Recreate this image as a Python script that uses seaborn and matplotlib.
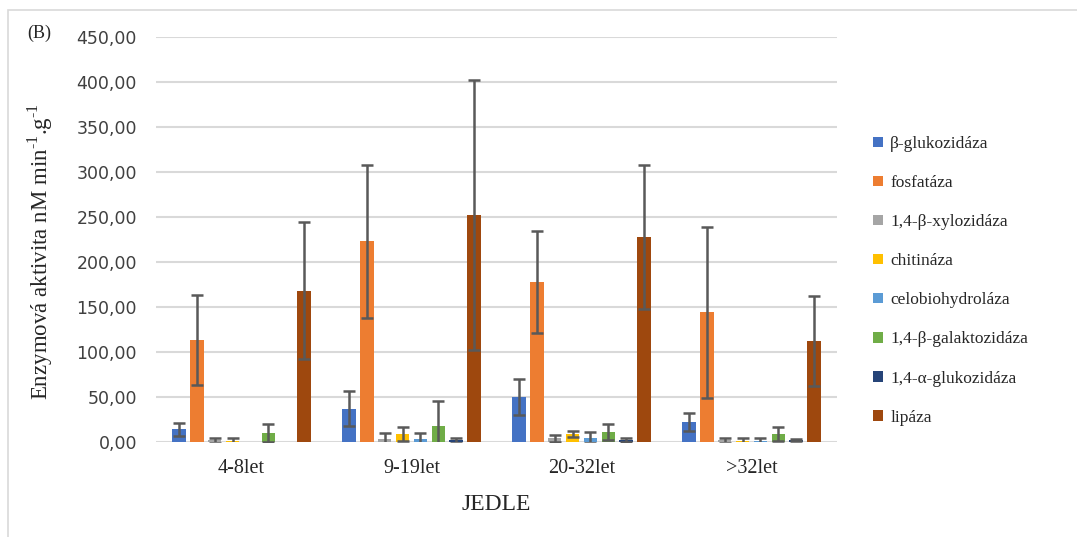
import numpy as np
import pandas as pd
import matplotlib
matplotlib.use("Agg")
import matplotlib.pyplot as plt
import seaborn as sns
from matplotlib.patches import Rectangle
from matplotlib.ticker import FuncFormatter

# --- data: enzyme activity per stand age class (fir, JEDLE) ---
categories = ["4-8let", "9-19let", "20-32let", ">32let"]
enzymes = ["β-glukozidáza", "fosfatáza", "1,4-β-xylozidáza", "chitináza",
           "celobiohydroláza", "1,4-β-galaktozidáza", "1,4-α-glukozidáza", "lipáza"]

mean_bglu = [14, 37, 50, 22]
mean_fosf = [113, 223, 178, 144]
mean_xyl = [2, 3, 4, 2]
mean_chit = [1, 9, 9, 1]
mean_celo = [np.nan, 3.5, 5, 1]
mean_gal = [10, 18, 11, 9]
mean_aglu = [np.nan, 2, 2, 2]
mean_lip = [168, 252, 228, 112]

sd_bglu = [7, 19.5, 20, 10]
sd_fosf = [50, 85, 57, 95]
sd_xyl = [3, 6.5, 4, 3]
sd_chit = [3, 8, 3, 3]
sd_celo = [np.nan, 7, 6, 3]
sd_gal = [10, 28, 9, 8]
sd_aglu = [np.nan, 3, 2, 1]
sd_lip = [76, 150, 80, 50]

means = [mean_bglu, mean_fosf, mean_xyl, mean_chit, mean_celo, mean_gal, mean_aglu, mean_lip]
sds = [sd_bglu, sd_fosf, sd_xyl, sd_chit, sd_celo, sd_gal, sd_aglu, sd_lip]

colors = ["#4472C4", "#ED7D31", "#A5A5A5", "#FFC000",
          "#5B9BD5", "#70AD47", "#264478", "#9E480E"]

rows = []
for enz, m, s in zip(enzymes, means, sds):
    for cat, mv, sv in zip(categories, m, s):
        rows.append({"vek": cat, "enzym": enz, "aktivita": mv, "sd": sv})
df = pd.DataFrame(rows)

sns.set_theme(style="white")
plt.rcParams["font.family"] = ["DejaVu Sans"]
SERIF = ["Liberation Serif", "DejaVu Serif"]

fig = plt.figure(figsize=(10.77, 5.37), dpi=100)
ax = fig.add_axes([0.1453, 0.1769, 0.6314, 0.7542])

BAR_W = 0.843
sns.barplot(data=df, x="vek", y="aktivita", hue="enzym",
            order=categories, hue_order=enzymes, palette=colors,
            width=BAR_W, gap=0.235, errorbar=None, saturation=1,
            linewidth=0, legend=False, ax=ax)

# error bars (mean ± sd) placed on the drawn bars
n_h = len(enzymes)
for bar in ax.patches:
    h = bar.get_height()
    if not np.isfinite(h):
        continue
    xc = bar.get_x() + bar.get_width() / 2
    i = int(round(xc))
    k = int(round((xc - i + BAR_W / 2) / (BAR_W / n_h) - 0.5))
    if not (0 <= k < n_h and 0 <= i < len(categories)):
        continue
    err = sds[k][i]
    if not np.isfinite(err):
        continue
    ax.errorbar(xc, h, yerr=err, fmt="none", ecolor="#595959",
                elinewidth=1.8, capsize=4, capthick=1.8, zorder=5)

ax.set_xlim(-0.5, 3.5)
ax.set_ylim(0, 450)
ax.set_yticks(np.arange(0, 451, 50))
ax.yaxis.set_major_formatter(FuncFormatter(lambda v, p: f"{v:.2f}".replace(".", ",")))
ax.yaxis.grid(True, color="#d9d9d9", linewidth=1.5)
ax.xaxis.grid(False)
ax.set_axisbelow(True)
for sp in ax.spines.values():
    sp.set_visible(False)
ax.tick_params(axis="y", length=0, pad=14, labelsize=12.5, labelcolor="#404040")
ax.tick_params(axis="x", length=0, pad=12)
for lab in ax.get_xticklabels():
    lab.set_family(SERIF)
    lab.set_fontsize(14.5)
    lab.set_color("#262626")
ax.set_xlabel("")
ax.set_ylabel("")

fig.text(0.4610, 1 - 505 / 537, "JEDLE", family=SERIF, fontsize=17,
         ha="center", va="center", color="#262626")
fig.text(40 / 1077, 1 - 252 / 537,
         r"Enzymová aktivita nM min$^{\mathregular{‐1}}$.g$^{\mathregular{‐1}}$",
         family=SERIF, fontsize=16.5, rotation=90, ha="center", va="center",
         color="#262626")
fig.text(27 / 1077, 1 - 33 / 537, "(B)", family=SERIF, fontsize=13,
         ha="left", va="center", color="#262626")

handles = [Rectangle((0, 0), 1, 1, facecolor=c, edgecolor="none") for c in colors]
fig.legend(handles, enzymes, loc="upper left",
           bbox_to_anchor=(873 / 1077, 1 - 136 / 537),
           frameon=False, borderpad=0, borderaxespad=0,
           handlelength=0.55, handleheight=0.55, handletextpad=0.45,
           labelspacing=1.33, prop={"family": SERIF, "size": 12.5})

# light chart-area border
fig.patches.append(Rectangle((8 / 1077, -0.1), 1.2, 1.1 - 10 / 537,
                             transform=fig.transFigure, fill=False,
                             edgecolor="#d9d9d9", linewidth=1.2))

fig.savefig("out.png", dpi=100)
